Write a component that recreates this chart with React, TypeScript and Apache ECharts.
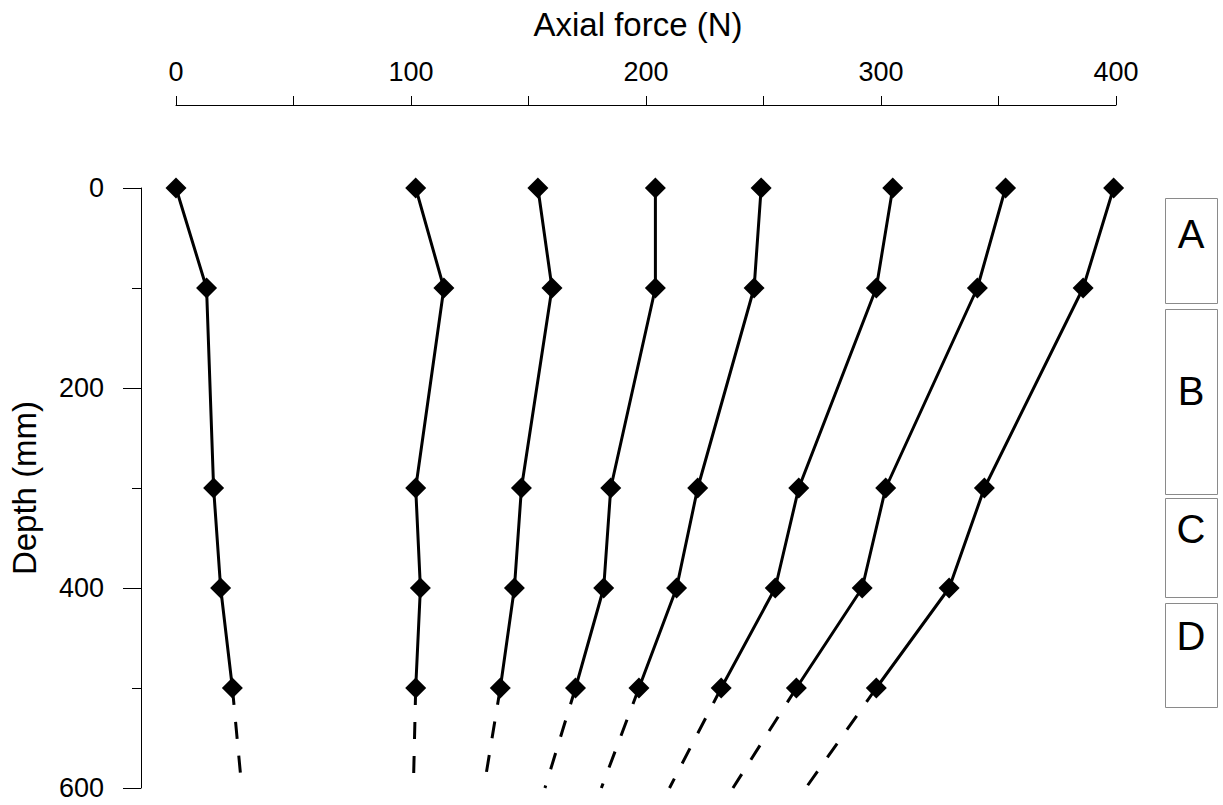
import React, { useEffect, useRef } from "react";
import * as echarts from "echarts";

// Depth positions (mm) of the measured points
const depths = [0, 100, 300, 400, 500];
// Depths of the dashed extrapolation
const extDepths = [500, 600];

// Axial force (N) for each load case, at the depths above
const load1 = [0, 13, 16, 19, 24];
const load2 = [102, 114, 102, 104, 102];
const load3 = [154, 160, 147, 144, 138];
const load4 = [204, 204, 185, 182, 170];
const load5 = [249, 246, 222, 213, 197];
const load6 = [305, 298, 265, 255, 232];
const load7 = [353, 341, 302, 292, 264];
const load8 = [399, 386, 344, 329, 298];
const loads = [load1, load2, load3, load4, load5, load6, load7, load8];

// Axial force at 600 mm (end of dashed extrapolation) for each load case
const extEnd = [28, 101, 131, 157, 181, 210, 237, 268];

// Tick labels
const xTickLabels = [0, 100, 200, 300, 400];
const yTickLabels = [0, 200, 400, 600];

// Soil layer labels
const layers = ["A", "B", "C", "D"];

export default function App() {
  const ref = useRef<HTMLDivElement>(null);

  useEffect(() => {
    if (!ref.current) return;
    const chart = echarts.init(ref.current, null, { renderer: "svg" });
    const font = "'Liberation Sans', Arial, Helvetica, sans-serif";

    const series: any[] = [];
    loads.forEach((vals, i) => {
      series.push({
        type: "line",
        data: [
          [vals[vals.length - 1], extDepths[0]],
          [extEnd[i], extDepths[1]],
        ],
        symbol: "none",
        showSymbol: false,
        silent: true,
        clip: false,
        lineStyle: { color: "#000", width: 3, type: [17, 17] },
        z: 2,
      });
    });
    loads.forEach((vals) => {
      series.push({
        type: "line",
        data: vals.map((v, j) => [v, depths[j]]),
        symbol: "diamond",
        symbolSize: 21,
        clip: false,
        itemStyle: { color: "#000" },
        lineStyle: { color: "#000", width: 3 },
        z: 3,
      });
    });

    // layer boxes (pixel layout)
    const boxLayout = [
      { y: 198, h: 105, ty: 234 },
      { y: 309, h: 185, ty: 391 },
      { y: 498, h: 99, ty: 529 },
      { y: 603, h: 104, ty: 636 },
    ];
    const graphic: any[] = [];
    layers.forEach((name, i) => {
      const b = boxLayout[i];
      graphic.push({
        type: "rect",
        shape: { x: 1165.5, y: b.y + 0.5, width: 52, height: b.h },
        style: { fill: "#fff", stroke: "#8a8a8a", lineWidth: 1 },
        z: 10,
      });
      graphic.push({
        type: "text",
        x: 1191,
        y: b.ty,
        style: {
          text: name,
          fontFamily: font,
          fontSize: 40,
          fill: "#000",
          align: "center",
          verticalAlign: "middle",
        },
        z: 11,
      });
    });

    chart.setOption({
      animation: false,
      backgroundColor: "#fff",
      textStyle: { fontFamily: font },
      grid: { left: 176, right: 107, top: 188, bottom: 17, containLabel: false },
      xAxis: {
        type: "value",
        position: "top",
        offset: 83,
        min: 0,
        max: 400,
        interval: 100,
        name: "Axial force (N)",
        nameLocation: "middle",
        nameGap: 64,
        nameTextStyle: {
          fontSize: 33,
          color: "#000",
          fontFamily: font,
          padding: [0, 16, 0, 0],
        },
        axisLine: { show: true, onZero: false, lineStyle: { color: "#000", width: 1 } },
        axisTick: { show: true, length: 9, lineStyle: { color: "#000", width: 1 } },
        minorTick: { show: true, splitNumber: 2, length: 9, lineStyle: { color: "#000", width: 1 } },
        splitLine: { show: false },
        minorSplitLine: { show: false },
        axisLabel: {
          margin: 20,
          fontSize: 27,
          color: "#000",
          fontFamily: font,
          formatter: (v: number) => (xTickLabels.includes(v) ? String(v) : ""),
        },
      },
      yAxis: {
        type: "value",
        position: "left",
        offset: 35,
        inverse: true,
        min: 0,
        max: 600,
        interval: 200,
        name: "Depth (mm)",
        nameLocation: "middle",
        nameGap: 100,
        nameRotate: 90,
        nameTextStyle: { fontSize: 33, color: "#000", fontFamily: font },
        axisLine: { show: true, onZero: false, lineStyle: { color: "#000", width: 1 } },
        axisTick: { show: true, length: 18, lineStyle: { color: "#000", width: 1 } },
        minorTick: { show: true, splitNumber: 2, length: 9, lineStyle: { color: "#000", width: 1 } },
        splitLine: { show: false },
        minorSplitLine: { show: false },
        axisLabel: {
          margin: 37,
          fontSize: 27,
          color: "#000",
          fontFamily: font,
          formatter: (v: number) => (yTickLabels.includes(v) ? String(v) : ""),
        },
      },
      series,
      graphic,
    });

    return () => chart.dispose();
  }, []);

  return (
    <div
      ref={ref}
      style={{ position: "absolute", left: 0, top: 0, width: 1223, height: 805 }}
    />
  );
}
